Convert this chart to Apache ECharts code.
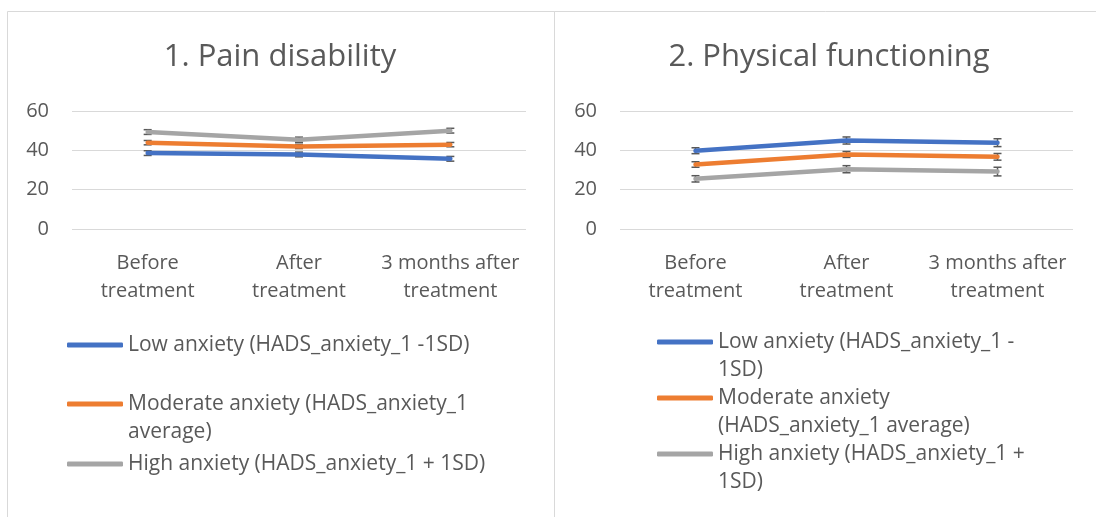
<!DOCTYPE html>
<html>
<head>
<meta charset="utf-8">
<style>
  html, body { margin: 0; padding: 0; background: #fff; }
  #main { width: 1096px; height: 517px; }
</style>
<script src="https://cdn.jsdelivr.net/npm/echarts@6/dist/echarts.min.js"></script>
</head>
<body>
<div id="main"></div>
<script>
// categories / tick labels
const categories = ["Before\ntreatment", "After\ntreatment", "3 months after\ntreatment"];
const yTicks = [0, 20, 40, 60];
const seriesNames = [
  "Low anxiety (HADS_anxiety_1 -1SD)",
  "Moderate anxiety (HADS_anxiety_1 average)",
  "High anxiety (HADS_anxiety_1 + 1SD)"
];
const colors = ["#4472C4", "#ED7D31", "#A5A5A5"];

// 1. Pain disability
const painLow = [38.6, 37.9, 35.7];
const painMid = [43.9, 42.0, 42.9];
const painHigh = [49.3, 45.4, 50.0];
const painLowErr = [1.2, 1.2, 1.2];
const painMidErr = [1.1, 1.1, 1.1];
const painHighErr = [1.2, 1.3, 1.2];

// 2. Physical functioning
const physLow = [39.8, 45.0, 43.9];
const physMid = [32.8, 37.9, 36.7];
const physHigh = [25.5, 30.4, 29.2];
const physLowErr = [1.5, 1.8, 2.0];
const physMidErr = [1.4, 1.5, 1.7];
const physHighErr = [1.6, 1.8, 2.2];

const textColor = "#595959";
const font = "Open Sans";

const chart = echarts.init(document.getElementById("main"));

function errorRender(params, api) {
  const x = api.value(0);
  const y = api.value(1);
  const e = api.value(2);
  const top = api.coord([x, y + e]);
  const bot = api.coord([x, y - e]);
  const hw = 4;
  const style = { stroke: "#595959", lineWidth: 1.5 };
  return {
    type: "group",
    children: [
      { type: "line", shape: { x1: top[0], y1: top[1], x2: bot[0], y2: bot[1] }, style: style },
      { type: "line", shape: { x1: top[0] - hw, y1: top[1], x2: top[0] + hw, y2: top[1] }, style: style },
      { type: "line", shape: { x1: bot[0] - hw, y1: bot[1], x2: bot[0] + hw, y2: bot[1] }, style: style }
    ]
  };
}

function lineSeries(idx, name, data, color) {
  return {
    name: name,
    type: "line",
    xAxisIndex: idx,
    yAxisIndex: idx,
    data: data,
    symbol: "none",
    z: 3,
    lineStyle: { color: color, width: 4.5, cap: "round", join: "round" },
    itemStyle: { color: color }
  };
}

function errSeries(idx, name, data, err) {
  return {
    name: name,
    type: "custom",
    xAxisIndex: idx,
    yAxisIndex: idx,
    renderItem: errorRender,
    data: data.map((v, i) => [i, v, err[i]]),
    encode: { x: 0, y: 1 },
    z: 2,
    silent: true
  };
}

function xAxis(idx) {
  return {
    type: "category",
    gridIndex: idx,
    data: categories,
    axisLine: { show: false },
    axisTick: { show: false },
    axisLabel: { color: textColor, fontSize: 20, lineHeight: 28, fontFamily: font, margin: 20, interval: 0 }
  };
}

function yAxis(idx) {
  return {
    type: "value",
    gridIndex: idx,
    min: yTicks[0],
    max: yTicks[yTicks.length - 1],
    interval: 20,
    axisLine: { show: false },
    axisTick: { show: false },
    splitLine: { lineStyle: { color: "#D9D9D9", width: 1 } },
    axisLabel: { color: textColor, fontSize: 20, fontFamily: font, margin: 23 }
  };
}

function legendItem(left, top, name, text) {
  return {
    data: [name],
    left: left,
    top: top,
    orient: "vertical",
    padding: 0,
    icon: "roundRect",
    itemWidth: 56,
    itemHeight: 5,
    selectedMode: false,
    formatter: () => text,
    textStyle: { color: textColor, fontSize: 21, lineHeight: 28, fontFamily: font }
  };
}

chart.setOption({
  animation: false,
  backgroundColor: "#fff",
  graphic: [
    { type: "rect", shape: { x: 7.5, y: 11.5, width: 547, height: 520 }, style: { fill: "none", stroke: "#D9D9D9", lineWidth: 1 } },
    { type: "rect", shape: { x: 554.5, y: 11.5, width: 560, height: 520 }, style: { fill: "none", stroke: "#D9D9D9", lineWidth: 1 } }
  ],
  title: [
    { text: "1. Pain disability", left: 280, textAlign: "center", top: 42, padding: 0,
      textStyle: { color: textColor, fontSize: 31, fontWeight: "normal", fontFamily: font } },
    { text: "2. Physical functioning", left: 829, textAlign: "center", top: 42, padding: 0,
      textStyle: { color: textColor, fontSize: 31, fontWeight: "normal", fontFamily: font } }
  ],
  grid: [
    { left: 72, top: 111, width: 454, height: 118 },
    { left: 620, top: 111, width: 453, height: 118 }
  ],
  xAxis: [xAxis(0), xAxis(1)],
  yAxis: [yAxis(0), yAxis(1)],
  legend: [
    legendItem(67, 331, seriesNames[0], "Low anxiety (HADS_anxiety_1 -1SD)"),
    legendItem(67, 362, seriesNames[1], "\nModerate anxiety (HADS_anxiety_1\naverage)"),
    legendItem(67, 450, seriesNames[2], "High anxiety (HADS_anxiety_1 + 1SD)"),
    legendItem(657, 300, seriesNames[0], "\nLow anxiety (HADS_anxiety_1 -\n1SD)"),
    legendItem(657, 356, seriesNames[1], "\nModerate anxiety\n(HADS_anxiety_1 average)"),
    legendItem(657, 412, seriesNames[2], "\nHigh anxiety (HADS_anxiety_1 +\n1SD)")
  ],
  series: [
    errSeries(0, "err-low-0", painLow, painLowErr),
    errSeries(0, "err-mid-0", painMid, painMidErr),
    errSeries(0, "err-high-0", painHigh, painHighErr),
    lineSeries(0, seriesNames[0], painLow, colors[0]),
    lineSeries(0, seriesNames[1], painMid, colors[1]),
    lineSeries(0, seriesNames[2], painHigh, colors[2]),
    errSeries(1, "err-low-1", physLow, physLowErr),
    errSeries(1, "err-mid-1", physMid, physMidErr),
    errSeries(1, "err-high-1", physHigh, physHighErr),
    lineSeries(1, seriesNames[0], physLow, colors[0]),
    lineSeries(1, seriesNames[1], physMid, colors[1]),
    lineSeries(1, seriesNames[2], physHigh, colors[2])
  ]
});
</script>
</body>
</html>
